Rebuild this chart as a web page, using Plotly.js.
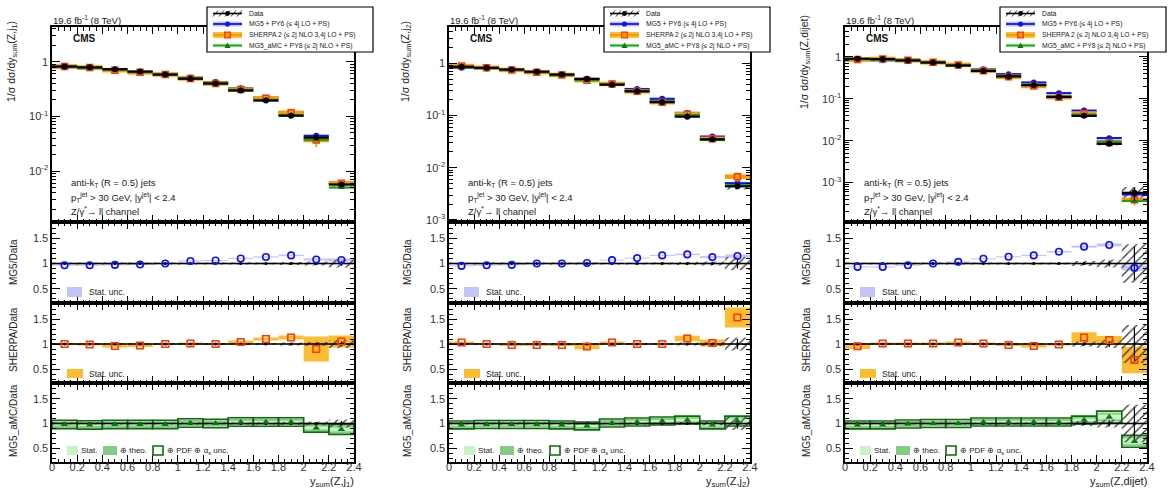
<!DOCTYPE html>
<html>
<head>
<meta charset="utf-8">
<script src="https://cdn.plot.ly/plotly-3.0.1.min.js"></script>
<style>
  html, body { margin: 0; padding: 0; background: #fff; }
  #chart { width: 1176px; height: 490px; }
</style>
</head>
<body>
<div id="chart"></div>
<script>
// Bin centres of y_sum (bins 0.2 wide from 0 to 2.4)
const ySumCenters = [0.1, 0.3, 0.5, 0.7, 0.9, 1.1, 1.3, 1.5, 1.7, 1.9, 2.1, 2.3];
const binHalfWidth = 0.1;

// ---- y_sum(Z, j1) ----
const dataZj1        = [0.82, 0.79, 0.73, 0.66, 0.585, 0.49, 0.40, 0.298, 0.195, 0.103, 0.041, 0.0057];
const dataStatZj1    = [0.004, 0.004, 0.004, 0.004, 0.005, 0.005, 0.006, 0.007, 0.008, 0.01, 0.015, 0.05];
const dataTotZj1     = [0.02, 0.02, 0.02, 0.02, 0.02, 0.02, 0.02, 0.02, 0.02, 0.03, 0.04, 0.08];
const mg5RatioZj1    = [0.967, 0.967, 0.973, 0.98, 1.0, 1.05, 1.06, 1.10, 1.13, 1.16, 1.08, 1.07];
const mg5StatZj1     = [0.01, 0.01, 0.01, 0.01, 0.01, 0.01, 0.01, 0.01, 0.012, 0.015, 0.02, 0.03];
const sherpaRatioZj1 = [1.0, 0.99, 0.96, 0.97, 1.0, 1.01, 1.0, 1.04, 1.10, 1.13, 0.90, 1.05];
const sherpaStatZj1  = [0.02, 0.02, 0.03, 0.03, 0.02, 0.02, 0.02, 0.03, 0.03, 0.04, 0.25, 0.12];
const amcRatioZj1    = [0.98, 0.97, 0.98, 0.98, 0.98, 1.01, 1.0, 1.03, 1.03, 1.03, 0.91, 0.88];
const amcStatZj1     = [0.02, 0.02, 0.02, 0.02, 0.02, 0.02, 0.02, 0.02, 0.02, 0.025, 0.03, 0.04];
const amcTheoZj1     = [0.065, 0.065, 0.065, 0.065, 0.065, 0.065, 0.065, 0.065, 0.065, 0.065, 0.065, 0.08];
const amcPdfZj1      = [0.085, 0.085, 0.085, 0.085, 0.085, 0.085, 0.085, 0.085, 0.085, 0.085, 0.085, 0.1];

// ---- y_sum(Z, j2) ----
const dataZj2        = [0.86, 0.82, 0.76, 0.69, 0.61, 0.50, 0.39, 0.29, 0.18, 0.095, 0.035, 0.0044];
const dataStatZj2    = [0.004, 0.004, 0.004, 0.004, 0.005, 0.005, 0.006, 0.007, 0.008, 0.01, 0.02, 0.1];
const dataTotZj2     = [0.02, 0.02, 0.02, 0.02, 0.02, 0.02, 0.02, 0.02, 0.02, 0.03, 0.04, 0.13];
const mg5RatioZj2    = [0.953, 0.967, 0.973, 1.0, 1.0, 1.01, 1.067, 1.107, 1.16, 1.18, 1.127, 1.147];
const mg5StatZj2     = [0.01, 0.01, 0.01, 0.01, 0.01, 0.01, 0.01, 0.01, 0.012, 0.015, 0.02, 0.03];
const sherpaRatioZj2 = [1.03, 1.0, 0.98, 0.98, 0.98, 0.95, 1.03, 1.0, 1.0, 1.11, 1.02, 1.53];
const sherpaStatZj2  = [0.02, 0.02, 0.02, 0.02, 0.02, 0.055, 0.02, 0.02, 0.02, 0.055, 0.07, 0.2];
const amcRatioZj2    = [0.97, 0.98, 0.98, 0.98, 0.97, 0.95, 1.01, 1.03, 1.05, 1.07, 0.97, 1.05];
const amcStatZj2     = [0.02, 0.02, 0.02, 0.02, 0.02, 0.02, 0.02, 0.02, 0.02, 0.025, 0.03, 0.05];
const amcTheoZj2     = [0.06, 0.06, 0.06, 0.06, 0.06, 0.06, 0.06, 0.06, 0.06, 0.06, 0.06, 0.08];
const amcPdfZj2      = [0.08, 0.08, 0.08, 0.08, 0.08, 0.08, 0.08, 0.08, 0.08, 0.08, 0.08, 0.1];

// ---- y_sum(Z, dijet) ----
const dataZjj        = [0.90, 0.88, 0.82, 0.73, 0.62, 0.46, 0.34, 0.21, 0.11, 0.039, 0.0084, 0.00057];
const dataStatZjj    = [0.004, 0.004, 0.004, 0.005, 0.005, 0.006, 0.007, 0.008, 0.01, 0.03, 0.06, 0.33];
const dataTotZjj     = [0.02, 0.02, 0.02, 0.02, 0.02, 0.02, 0.02, 0.02, 0.02, 0.05, 0.08, 0.38];
const mg5RatioZjj    = [0.933, 0.933, 0.967, 1.0, 1.033, 1.093, 1.133, 1.16, 1.233, 1.333, 1.367, 0.913];
const mg5StatZjj     = [0.01, 0.01, 0.01, 0.01, 0.01, 0.01, 0.01, 0.012, 0.015, 0.02, 0.03, 0.05];
const sherpaRatioZjj = [0.955, 1.01, 1.01, 1.01, 1.03, 1.01, 0.98, 0.96, 0.99, 1.13, 1.08, 0.68];
const sherpaStatZjj  = [0.055, 0.02, 0.02, 0.02, 0.02, 0.02, 0.02, 0.03, 0.02, 0.105, 0.08, 0.265];
const amcRatioZjj    = [0.97, 0.97, 0.99, 1.0, 1.0, 1.03, 1.03, 1.03, 1.03, 1.07, 1.13, 0.64];
const amcStatZjj     = [0.02, 0.02, 0.02, 0.02, 0.02, 0.02, 0.02, 0.02, 0.02, 0.03, 0.05, 0.06];
const amcTheoZjj     = [0.06, 0.06, 0.06, 0.06, 0.06, 0.06, 0.06, 0.06, 0.06, 0.065, 0.09, 0.1];
const amcPdfZjj      = [0.08, 0.08, 0.08, 0.08, 0.08, 0.08, 0.08, 0.08, 0.08, 0.08, 0.12, 0.12];

const xLabels = ['Z,j<sub>1</sub>', 'Z,j<sub>2</sub>', 'Z,dijet'];

const panels = [
  { label: xLabels[0], data: dataZj1, stat: dataStatZj1, tot: dataTotZj1,
    mg5: mg5RatioZj1, mg5Stat: mg5StatZj1, sherpa: sherpaRatioZj1, sherpaStat: sherpaStatZj1,
    amc: amcRatioZj1, amcStat: amcStatZj1, amcTheo: amcTheoZj1, amcPdf: amcPdfZj1,
    logRange: [-2.93, 0.635], decades: [-2, -1, 0] },
  { label: xLabels[1], data: dataZj2, stat: dataStatZj2, tot: dataTotZj2,
    mg5: mg5RatioZj2, mg5Stat: mg5StatZj2, sherpa: sherpaRatioZj2, sherpaStat: sherpaStatZj2,
    amc: amcRatioZj2, amcStat: amcStatZj2, amcTheo: amcTheoZj2, amcPdf: amcPdfZj2,
    logRange: [-3.04, 0.695], decades: [-3, -2, -1, 0] },
  { label: xLabels[2], data: dataZjj, stat: dataStatZjj, tot: dataTotZjj,
    mg5: mg5RatioZjj, mg5Stat: mg5StatZjj, sherpa: sherpaRatioZjj, sherpaStat: sherpaStatZjj,
    amc: amcRatioZjj, amcStat: amcStatZjj, amcTheo: amcTheoZjj, amcPdf: amcPdfZjj,
    logRange: [-3.94, 0.71], decades: [-3, -2, -1, 0] }
];

// ---- page geometry (pixels) ----
const W = 1176, H = 490;
const fx = p => p / W;
const fy = p => (H - p) / H;
const colLeft = [52, 449, 845];
const colRight = [354, 750, 1147];
const rowTop = [27, 222, 303, 383];
const rowBottom = [222, 303, 383, 462];
const colShift = [0, 397, 793];
const FONT = 'Liberation Sans, Arial, Helvetica, sans-serif';

const C = {
  mg5: '#1010ff', mg5Band: 'rgba(190,190,250,0.9)',
  sherpaLine: '#ff9a00', sherpaMark: '#ff3a00', sherpaBand: '#fdbd33',
  amcLine: '#15a015', amcMark: '#0a780a', amcStat: '#c8f2c8', amcTheo: 'rgba(110,195,110,0.85)', amcPdf: '#0b6b0b'
};

const sfx = k => (k === 1 ? '' : String(k));

function band(k, base, height, fill, line, pattern) {
  const t = {
    type: 'bar', x: ySumCenters, y: height, base: base, width: 2 * binHalfWidth,
    xaxis: 'x' + sfx(k), yaxis: 'y' + sfx(k), hoverinfo: 'skip', showlegend: false,
    marker: { color: fill, line: line || { width: 0, color: 'rgba(0,0,0,0)' } }
  };
  if (pattern) t.marker.pattern = pattern;
  return t;
}
const hatch = { shape: '/', fgcolor: '#3a3a3a', bgcolor: 'rgba(0,0,0,0)', size: 6, solidity: 0.22 };

function points(k, y, marker, errX, errY) {
  const t = {
    type: 'scatter', mode: 'markers', x: ySumCenters, y: y,
    xaxis: 'x' + sfx(k), yaxis: 'y' + sfx(k), hoverinfo: 'skip', showlegend: false,
    marker: marker, cliponaxis: true
  };
  if (errX) t.error_x = Object.assign({ type: 'constant', value: binHalfWidth, width: 0 }, errX);
  if (errY) t.error_y = Object.assign({ type: 'data', width: 0 }, errY);
  return t;
}

const traces = [];
panels.forEach((p, c) => {
  const kMain = c * 4 + 1, kMg5 = c * 4 + 2, kSh = c * 4 + 3, kAmc = c * 4 + 4;
  const mg5Pred = p.data.map((v, i) => v * p.mg5[i]);
  const shPred = p.data.map((v, i) => v * p.sherpa[i]);
  const amcPred = p.data.map((v, i) => v * p.amc[i]);
  const unity = p.data.map(v => v / v);   // data normalised to itself

  // main distribution
  traces.push(band(kMain, p.data.map((v, i) => v * (1 - p.tot[i])), p.data.map((v, i) => 2 * v * p.tot[i]), 'rgba(0,0,0,0)', null, hatch));
  traces.push(points(kMain, mg5Pred, { symbol: 'circle', size: 6, color: C.mg5 },
    { thickness: 2.2, color: C.mg5 }, { array: mg5Pred.map((v, i) => v * p.mg5Stat[i]), thickness: 1.5, color: C.mg5 }));
  traces.push(points(kMain, shPred, { symbol: 'square', size: 6, color: C.sherpaLine, line: { color: C.sherpaMark, width: 1.5 } },
    { thickness: 4.5, color: C.sherpaLine }, { array: shPred.map((v, i) => v * p.sherpaStat[i]), thickness: 1.8, color: C.sherpaLine }));
  traces.push(points(kMain, amcPred, { symbol: 'triangle-up', size: 6, color: C.amcMark },
    { thickness: 2.2, color: C.amcLine }, { array: amcPred.map((v, i) => v * p.amcStat[i]), thickness: 1.5, color: C.amcLine }));
  traces.push(points(kMain, p.data, { symbol: 'circle', size: 6, color: '#000' },
    { thickness: 2.2, color: '#000' }, { array: p.data.map((v, i) => v * p.stat[i]), thickness: 1.5, color: '#000' }));

  // MG5 / data
  traces.push(band(kMg5, p.mg5.map((v, i) => v - p.mg5Stat[i]), p.mg5Stat.map(s => 2 * s), C.mg5Band));
  traces.push(band(kMg5, p.tot.map(u => 1 - u), p.tot.map(u => 2 * u), 'rgba(0,0,0,0)', null, hatch));
  traces.push(points(kMg5, unity, { symbol: 'circle', size: 3, color: '#000' },
    { thickness: 1.6, color: '#000' }, { array: p.stat, thickness: 1.2, color: '#000' }));
  traces.push(points(kMg5, p.mg5, { symbol: 'circle-open', size: 6.5, color: C.mg5, line: { width: 1.6, color: C.mg5 } }));

  // SHERPA / data
  traces.push(band(kSh, p.sherpa.map((v, i) => v - p.sherpaStat[i]), p.sherpaStat.map(s => 2 * s), C.sherpaBand));
  traces.push(band(kSh, p.tot.map(u => 1 - u), p.tot.map(u => 2 * u), 'rgba(0,0,0,0)', null, hatch));
  traces.push(points(kSh, unity, { symbol: 'circle', size: 3, color: '#000' },
    { thickness: 1.6, color: '#000' }, { array: p.stat, thickness: 1.2, color: '#000' }));
  traces.push(points(kSh, p.sherpa, { symbol: 'square-open', size: 6.5, color: C.sherpaMark, line: { width: 1.6, color: C.sherpaMark } }));

  // MG5_aMC / data
  traces.push(band(kAmc, p.amc.map((v, i) => v - p.amcTheo[i]), p.amcTheo.map(s => 2 * s), C.amcTheo));
  traces.push(band(kAmc, p.amc.map((v, i) => v - p.amcStat[i]), p.amcStat.map(s => 2 * s), C.amcStat));
  traces.push(band(kAmc, p.amc.map((v, i) => v - p.amcPdf[i]), p.amcPdf.map(s => 2 * s), 'rgba(0,0,0,0)', { width: 1.6, color: C.amcPdf }));
  traces.push(band(kAmc, p.tot.map(u => 1 - u), p.tot.map(u => 2 * u), 'rgba(0,0,0,0)', null, hatch));
  traces.push(points(kAmc, unity, { symbol: 'circle', size: 3, color: '#000' },
    { thickness: 1.6, color: '#000' }, { array: p.stat, thickness: 1.2, color: '#000' }));
  traces.push(points(kAmc, p.amc, { symbol: 'triangle-up', size: 6.5, color: C.amcMark }));
});

// ---- axes ----
const layout = {
  width: W, height: H, margin: { l: 0, r: 0, t: 0, b: 0 },
  paper_bgcolor: '#fff', plot_bgcolor: 'rgba(0,0,0,0)',
  showlegend: false, hovermode: false, barmode: 'overlay',
  font: { family: FONT, color: '#000' },
  shapes: [], annotations: []
};

const supMinus = n => (n === 0 ? '1' : '10<sup>' + n + '</sup>');

panels.forEach((p, c) => {
  for (let r = 0; r < 4; r++) {
    const k = c * 4 + r + 1;
    layout['xaxis' + sfx(k)] = {
      domain: [fx(colLeft[c]), fx(colRight[c])], anchor: 'y' + sfx(k),
      range: [0, 2.4], tick0: 0, dtick: 0.2,
      showline: true, mirror: 'allticks', linecolor: '#000', linewidth: 1.6,
      ticks: 'inside', ticklen: 7, tickwidth: 1, tickcolor: '#000',
      minor: { ticks: 'inside', ticklen: 3.5, dtick: 0.05, tickwidth: 1, tickcolor: '#000' },
      showticklabels: r === 3, ticklabelstandoff: -6,
      tickfont: { size: 11, family: FONT, color: '#333' },
      showgrid: false, zeroline: false, fixedrange: true
    };
    let yax;
    if (r === 0) {
      const minorVals = [];
      for (let d = -4; d <= 0; d++) for (let m = 2; m <= 9; m++) minorVals.push(m * Math.pow(10, d));
      yax = {
        type: 'log', range: p.logRange,
        tickmode: 'array', tickvals: p.decades.map(d => Math.pow(10, d)), ticktext: p.decades.map(supMinus),
        minor: { ticks: 'inside', ticklen: 4, tickwidth: 1, tickcolor: '#000', tickmode: 'array', tickvals: minorVals }
      };
    } else {
      yax = {
        range: [0.22, 1.82], tickmode: 'array', tickvals: [0.5, 1, 1.5], ticktext: ['0.5', '1', '1.5'],
        minor: { ticks: 'inside', ticklen: 4, tickwidth: 1, tickcolor: '#000', tickmode: 'linear', tick0: 0, dtick: 0.1 }
      };
    }
    layout['yaxis' + sfx(k)] = Object.assign(yax, {
      domain: [fy(rowBottom[r]), fy(rowTop[r])], anchor: 'x' + sfx(k),
      showline: true, mirror: 'allticks', linecolor: '#000', linewidth: 1.6,
      ticks: 'inside', ticklen: 8, tickwidth: 1, tickcolor: '#000',
      tickfont: { size: 11, family: FONT, color: '#333' },
      showgrid: false, zeroline: false, fixedrange: true
    });
  }
});

// ---- texts and legend boxes ----
function ann(text, x, y, opt) {
  layout.annotations.push(Object.assign({
    text: text, xref: 'paper', yref: 'paper', x: fx(x), y: fy(y),
    xanchor: 'left', yanchor: 'middle', showarrow: false,
    font: { family: FONT, size: 9.5, color: '#222' }
  }, opt || {}));
}
function rect(x0, y0, x1, y1, fill, line) {
  layout.shapes.push({
    type: 'rect', xref: 'paper', yref: 'paper', layer: 'above',
    x0: fx(x0), x1: fx(x1), y0: fy(y1), y1: fy(y0),
    fillcolor: fill, line: line || { width: 0 }
  });
}
function seg(x0, y0, x1, y1, color, width) {
  layout.shapes.push({
    type: 'line', xref: 'paper', yref: 'paper', layer: 'above',
    x0: fx(x0), x1: fx(x1), y0: fy(y0), y1: fy(y1), line: { color: color, width: width }
  });
}
function dot(cx, cy, r, fill, line) {
  layout.shapes.push({
    type: 'circle', xref: 'paper', yref: 'paper', layer: 'above',
    x0: fx(cx - r), x1: fx(cx + r), y0: fy(cy + r), y1: fy(cy - r),
    fillcolor: fill, line: line || { width: 0 }
  });
}
function tri(cx, cy, r, fill) {
  const pts = [[cx - r, cy + r * 0.8], [cx + r, cy + r * 0.8], [cx, cy - r]]
    .map(q => fx(q[0]).toFixed(5) + ',' + fy(q[1]).toFixed(5));
  layout.shapes.push({
    type: 'path', xref: 'paper', yref: 'paper', layer: 'above',
    path: 'M' + pts[0] + ' L' + pts[1] + ' L' + pts[2] + ' Z', fillcolor: fill, line: { width: 0 }
  });
}

const yTitleX = [12, 406, 805];
const mainTitles = ['1/σ dσ/dy<sub>sum</sub>(Z,j<sub>1</sub>)', '1/σ dσ/dy<sub>sum</sub>(Z,j<sub>2</sub>)', '1/σ dσ/dy<sub>sum</sub>(Z,dijet)'];
const legendTexts = ['Data', 'MG5 + PY6 (≤ 4j LO + PS)', 'SHERPA 2 (≤ 2j NLO 3,4j LO + PS)', 'MG5_aMC + PY8 (≤ 2j NLO + PS)'];

panels.forEach((p, c) => {
  const s = colShift[c];
  const L = colLeft[c];

  // axis titles
  ann(mainTitles[c], yTitleX[c], 62, { xanchor: 'center', textangle: -90, font: { family: FONT, size: 10.5, color: '#222' } });
  ann('MG5/Data', yTitleX[c] + 1, 262, { xanchor: 'center', textangle: -90, font: { family: FONT, size: 10, color: '#222' } });
  ann('SHERPA/Data', yTitleX[c] + 1, 340, { xanchor: 'center', textangle: -90, font: { family: FONT, size: 10, color: '#222' } });
  ann('MG5_aMC/Data', yTitleX[c] + 1, 421, { xanchor: 'center', textangle: -90, font: { family: FONT, size: 10, color: '#222' } });
  ann('y<sub>sum</sub>(' + p.label + ')', colRight[c] + 2, 482, { xanchor: 'right', font: { family: FONT, size: 11, color: '#222' } });

  // header and labels inside the frame
  ann('19.6 fb<sup>-1</sup> (8 TeV)', L - 1, 20, { font: { family: FONT, size: 9.5, color: '#222' } });
  ann('<b>CMS</b>', L + 19, 38, { font: { family: FONT, size: 10, color: '#111' } });
  ann('anti-k<sub>T</sub> (R = 0.5) jets', L + 17, 183);
  ann('p<sub>T</sub><sup>jet</sup> > 30 GeV, |y<sup>jet</sup>| < 2.4', L + 17, 198);
  ann('Z/γ<sup>*</sup>→ ll channel', L + 17, 211);

  // legend box
  const bx0 = 207 + s, bx1 = 373 + s;
  rect(bx0, 7, bx1, 52, '#fff', { color: '#000', width: 1.2 });
  const sx0 = bx0 + 6, sx1 = bx0 + 35, sc = (sx0 + sx1) / 2;
  const rowsY = [13.5, 24, 35, 45.5];
  // Data entry
  for (let h = 0; h < 5; h++) seg(sx0 + h * 6, rowsY[0] + 3, sx0 + h * 6 + 5, rowsY[0] - 3, '#333', 1);
  seg(sx0, rowsY[0], sx1, rowsY[0], '#000', 1.6);
  dot(sc, rowsY[0], 2.4, '#000');
  // MG5 entry
  rect(sx0, rowsY[1] - 2.5, sx1, rowsY[1] + 2.5, C.mg5Band);
  seg(sx0, rowsY[1], sx1, rowsY[1], C.mg5, 1.8);
  dot(sc, rowsY[1], 2.6, C.mg5);
  // SHERPA entry
  rect(sx0, rowsY[2] - 3, sx1, rowsY[2] + 3, C.sherpaBand);
  seg(sx0, rowsY[2], sx1, rowsY[2], C.sherpaLine, 2);
  rect(sc - 2.8, rowsY[2] - 2.8, sc + 2.8, rowsY[2] + 2.8, C.sherpaLine, { color: C.sherpaMark, width: 1.3 });
  // MG5_aMC entry
  rect(sx0, rowsY[3] - 2, sx1, rowsY[3] + 2, C.amcStat);
  seg(sx0, rowsY[3], sx1, rowsY[3], C.amcLine, 1.8);
  tri(sc, rowsY[3], 3, C.amcMark);
  legendTexts.forEach((t, i) => ann(t, sx1 + 5, rowsY[i], { font: { family: FONT, size: 6.8, color: '#222' } }));

  // ratio panel keys
  rect(L + 15, 287, L + 30, 297, C.mg5Band);
  ann('Stat. unc.', L + 35, 292, { font: { family: FONT, size: 8.5, color: '#222' } });
  rect(L + 15, 369, L + 31, 378, C.sherpaBand);
  ann('Stat. unc.', L + 35, 373.5, { font: { family: FONT, size: 8.5, color: '#222' } });
  rect(L + 15, 446, L + 26, 455, C.amcStat);
  ann('Stat.', L + 27, 450.5, { font: { family: FONT, size: 8, color: '#222' } });
  rect(L + 51, 446, L + 65, 455, C.amcTheo);
  ann('⊕ theo.', L + 66, 450.5, { font: { family: FONT, size: 8, color: '#222' } });
  rect(L + 101, 446, L + 111, 455, 'rgba(0,0,0,0)', { color: C.amcPdf, width: 1.6 });
  ann('⊕ PDF ⊕ α<sub>s</sub> unc.', L + 113, 450.5, { font: { family: FONT, size: 8, color: '#222' } });
});

Plotly.newPlot('chart', traces, layout, { staticPlot: true, displayModeBar: false });
</script>
</body>
</html>
